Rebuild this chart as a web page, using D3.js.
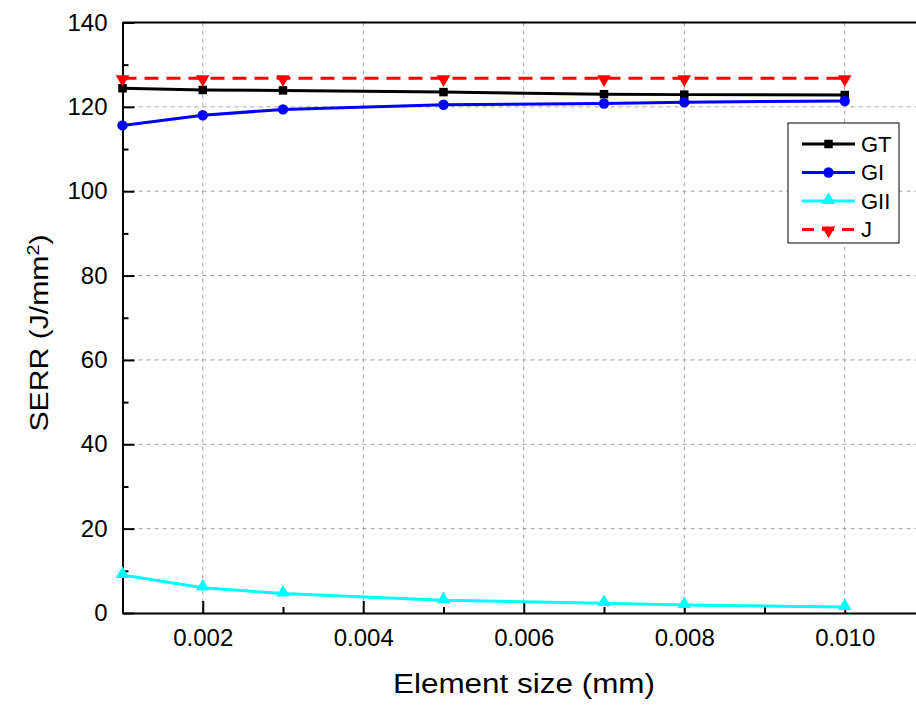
<!DOCTYPE html>
<html>
<head>
<meta charset="utf-8">
<script src="https://cdn.jsdelivr.net/npm/d3@7"></script>
<style>
  html, body { margin: 0; padding: 0; background: #fff; }
  svg { display: block; font-family: "Liberation Sans", Arial, sans-serif; }
</style>
</head>
<body>
<svg id="chart" width="916" height="706"></svg>
<script>
// Element size (mm)
const elementSize = [0.001, 0.002, 0.003, 0.005, 0.007, 0.008, 0.010];
// Strain energy release rates (J/mm^2)
const GT  = [124.4, 124.0, 123.9, 123.5, 123.0, 122.9, 122.8];
const GI  = [115.6, 118.0, 119.4, 120.5, 120.8, 121.1, 121.4];
const GII = [9.0, 6.0, 4.6, 3.0, 2.3, 1.9, 1.4];
const J   = [126.8, 126.8, 126.8, 126.8, 126.8, 126.8, 126.8];

const xTicks = [0.002, 0.004, 0.006, 0.008, 0.010];
const xMinor = [0.003, 0.005, 0.007, 0.009];
const yTicks = [0, 20, 40, 60, 80, 100, 120, 140];
const yMinor = [10, 30, 50, 70, 90, 110, 130];

const series = [
  { name: "GT",  values: GT,  color: "#000000", marker: "square",   dash: null },
  { name: "GI",  values: GI,  color: "#0000ff", marker: "circle",   dash: null },
  { name: "GII", values: GII, color: "#00ffff", marker: "triangle", dash: null },
  { name: "J",   values: J,   color: "#ff0000", marker: "invtri",   dash: "14,8" }
];

const svg = d3.select("#chart");
const plotL = 122.5, plotR = 925, plotT = 22.5, plotB = 613;

const x = d3.scaleLinear().domain([0.001, 0.011]).range([plotL, plotR]);
const y = d3.scaleLinear().domain([0, 140]).range([plotB, plotT]);

// dashed grid at major ticks
const grid = svg.append("g");
grid.selectAll("line.gx").data(xTicks).enter().append("line")
  .attr("x1", d => x(d)).attr("x2", d => x(d))
  .attr("y1", plotT).attr("y2", plotB)
  .attr("stroke", "#a0a0a0").attr("stroke-width", 1).attr("stroke-dasharray", "4,4");
grid.selectAll("line.gy").data(yTicks.filter(d => d > 0 && d < 140)).enter().append("line")
  .attr("x1", plotL).attr("x2", plotR)
  .attr("y1", d => y(d)).attr("y2", d => y(d))
  .attr("stroke", "#a0a0a0").attr("stroke-width", 1).attr("stroke-dasharray", "4,4");

// axes with inward ticks
const fontTick = 24;
const xAxis = d3.axisBottom(x).tickValues(xTicks).tickFormat(d3.format(".3f"))
  .tickSizeInner(-12).tickSizeOuter(0).tickPadding(16);
const gx = svg.append("g").attr("transform", `translate(0,${plotB})`).call(xAxis);
gx.select(".domain").attr("stroke-width", 2);
gx.selectAll(".tick line").attr("stroke-width", 2);
gx.selectAll("text").attr("font-size", fontTick).attr("fill", "#000");

const gxm = svg.append("g").attr("transform", `translate(0,${plotB})`)
  .call(d3.axisBottom(x).tickValues(xMinor).tickFormat("").tickSizeInner(-6).tickSizeOuter(0));
gxm.select(".domain").remove();
gxm.selectAll(".tick line").attr("stroke-width", 2);

const yAxis = d3.axisLeft(y).tickValues(yTicks).tickSizeInner(-12).tickSizeOuter(0).tickPadding(15);
const gy = svg.append("g").attr("transform", `translate(${plotL},0)`).call(yAxis);
gy.select(".domain").attr("stroke-width", 2);
gy.selectAll(".tick line").attr("stroke-width", 2);
gy.selectAll("text").attr("font-size", fontTick).attr("fill", "#000");

const gym = svg.append("g").attr("transform", `translate(${plotL},0)`)
  .call(d3.axisLeft(y).tickValues(yMinor).tickFormat("").tickSizeInner(-6).tickSizeOuter(0));
gym.select(".domain").remove();
gym.selectAll(".tick line").attr("stroke-width", 2);

// top border
svg.append("line").attr("x1", plotL).attr("x2", plotR).attr("y1", plotT).attr("y2", plotT)
  .attr("stroke", "#000").attr("stroke-width", 2);

// series lines
const line = d3.line().x((d, i) => x(elementSize[i])).y(d => y(d));
const symbolFor = {
  square:   d3.symbol().type(d3.symbolSquare).size(72),
  circle:   d3.symbol().type(d3.symbolCircle).size(85),
  triangle: d3.symbol().type(d3.symbolTriangle).size(80),
  invtri:   d3.symbol().type(d3.symbolTriangle).size(80)
};
function drawMarker(g, s, cx, cy) {
  const p = g.append("path").attr("d", symbolFor[s.marker]()).attr("fill", s.color);
  if (s.marker === "invtri") p.attr("transform", `translate(${cx},${cy + 1}) rotate(180)`);
  else if (s.marker === "triangle") p.attr("transform", `translate(${cx},${cy - 1})`);
  else p.attr("transform", `translate(${cx},${cy})`);
}

const plot = svg.append("g");
series.forEach(s => {
  plot.append("path").datum(s.values).attr("d", line)
    .attr("fill", "none").attr("stroke", s.color).attr("stroke-width", 3)
    .attr("stroke-dasharray", s.dash);
  s.values.forEach((v, i) => drawMarker(plot, s, x(elementSize[i]), y(v)));
});

// legend
const lg = svg.append("g");
lg.append("rect").attr("x", 788).attr("y", 123).attr("width", 111).attr("height", 120)
  .attr("fill", "#fff").attr("stroke", "#000").attr("stroke-width", 1);
series.forEach((s, i) => {
  const cy = 144 + i * 28.5;
  lg.append("line").attr("x1", 802).attr("x2", 855).attr("y1", cy).attr("y2", cy)
    .attr("stroke", s.color).attr("stroke-width", 3).attr("stroke-dasharray", s.dash ? "12,8" : null);
  drawMarker(lg, s, 828.5, cy);
  lg.append("text").attr("x", 861).attr("y", cy).attr("dy", "0.36em")
    .attr("font-size", 22).text(s.name);
});

// axis titles
svg.append("text").attr("x", 524).attr("y", 693).attr("text-anchor", "middle")
  .attr("font-size", 27).attr("textLength", 262).attr("lengthAdjust", "spacingAndGlyphs")
  .text("Element size (mm)");
const yt = svg.append("text").attr("transform", "translate(48,333) rotate(-90)")
  .attr("text-anchor", "middle").attr("font-size", 26)
  .attr("textLength", 197).attr("lengthAdjust", "spacingAndGlyphs");
yt.append("tspan").text("SERR (J/mm");
yt.append("tspan").attr("baseline-shift", "super").attr("font-size", 17).text("2");
yt.append("tspan").text(")");
</script>
</body>
</html>
